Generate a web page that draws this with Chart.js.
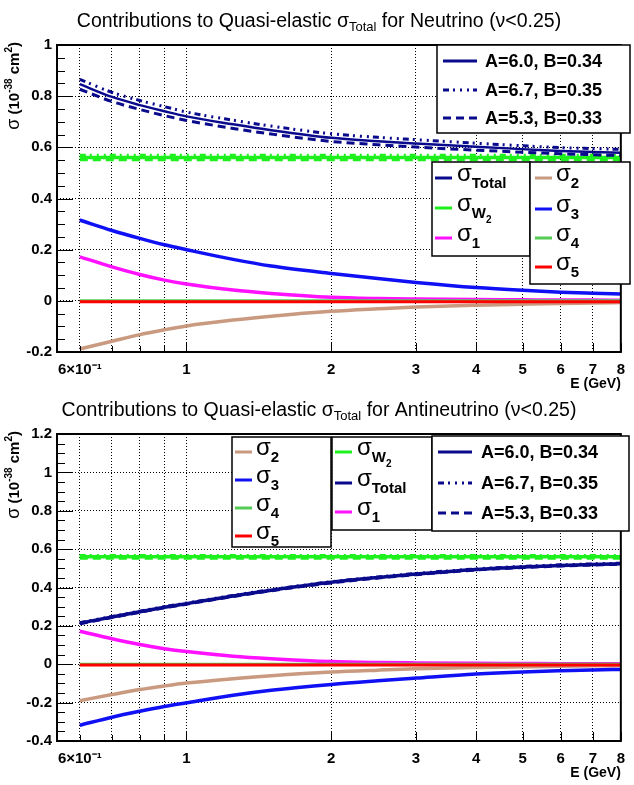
<!DOCTYPE html>
<html>
<head>
<meta charset="utf-8">
<script src="https://cdn.jsdelivr.net/npm/chart.js@4/dist/chart.umd.min.js"></script>
<style>
body { margin: 0; background: #fff; }
#wrap { position: relative; width: 634px; height: 785px; }
canvas { position: absolute; left: 0; }
</style>
</head>
<body>
<div id="wrap">
  <canvas id="nu" width="634" height="392" style="top:0"></canvas>
  <canvas id="anu" width="634" height="393" style="top:392px"></canvas>
</div>
<script>
// energies (GeV) at which the curves were read
const energy = [0.6, 0.7, 0.8, 0.9, 1, 1.25, 1.5, 2, 2.5, 3, 4, 5, 6, 7, 8];

// x axis ticks
const xTickValues = [0.6, 0.7, 0.8, 0.9, 1, 2, 3, 4, 5, 6, 7, 8];
const xTickLabels = ['6\u00d710\u207b\u00b9', '', '', '', '1', '2', '3', '4', '5', '6', '7', '8'];

// neutrino
const totalNu   = [0.847, 0.797, 0.765, 0.741, 0.721, 0.690, 0.667, 0.637, 0.624, 0.615, 0.602, 0.593, 0.586, 0.582, 0.579];
const totalNuHi = [0.866, 0.815, 0.783, 0.759, 0.738, 0.706, 0.683, 0.653, 0.639, 0.630, 0.616, 0.606, 0.599, 0.595, 0.592];
const totalNuLo = [0.827, 0.779, 0.748, 0.724, 0.705, 0.674, 0.652, 0.623, 0.610, 0.601, 0.589, 0.581, 0.575, 0.571, 0.568];
const w2Nu   = [0.560, 0.560, 0.560, 0.560, 0.560, 0.560, 0.560, 0.560, 0.560, 0.560, 0.560, 0.560, 0.560, 0.560, 0.560];
const w2NuHi = [0.568, 0.568, 0.568, 0.568, 0.568, 0.568, 0.568, 0.568, 0.568, 0.568, 0.568, 0.568, 0.568, 0.568, 0.568];
const w2NuLo = [0.552, 0.552, 0.552, 0.552, 0.552, 0.552, 0.552, 0.552, 0.552, 0.552, 0.552, 0.552, 0.552, 0.552, 0.552];
const sigma1Nu = [0.172, 0.133, 0.103, 0.081, 0.066, 0.042, 0.029, 0.014, 0.009, 0.007, 0.005, 0.004, 0.003, 0.003, 0.002];
const sigma2Nu = [-0.188, -0.158, -0.132, -0.113, -0.098, -0.075, -0.060, -0.041, -0.031, -0.024, -0.017, -0.013, -0.010, -0.008, -0.007];
const sigma3Nu = [0.316, 0.275, 0.244, 0.219, 0.200, 0.162, 0.136, 0.107, 0.087, 0.072, 0.052, 0.041, 0.034, 0.030, 0.027];
const sigma4Nu = [0.002, 0.002, 0.002, 0.002, 0.002, 0.002, 0.002, 0.002, 0.002, 0.002, 0.002, 0.002, 0.002, 0.002, 0.002];
const sigma5Nu = [-0.004, -0.004, -0.004, -0.004, -0.004, -0.004, -0.004, -0.004, -0.004, -0.004, -0.004, -0.004, -0.004, -0.004, -0.004];

// antineutrino
const totalAnu   = [0.214, 0.246, 0.274, 0.297, 0.316, 0.356, 0.386, 0.427, 0.452, 0.470, 0.494, 0.507, 0.515, 0.520, 0.524];
const totalAnuHi = [0.217, 0.249, 0.277, 0.300, 0.319, 0.359, 0.389, 0.430, 0.455, 0.473, 0.497, 0.510, 0.518, 0.523, 0.527];
const totalAnuLo = [0.211, 0.243, 0.271, 0.294, 0.313, 0.353, 0.383, 0.424, 0.449, 0.467, 0.491, 0.504, 0.512, 0.517, 0.521];
const w2Anu   = [0.560, 0.560, 0.560, 0.560, 0.560, 0.560, 0.560, 0.560, 0.560, 0.560, 0.560, 0.560, 0.560, 0.560, 0.560];
const w2AnuHi = [0.566, 0.566, 0.566, 0.566, 0.566, 0.566, 0.566, 0.566, 0.566, 0.566, 0.566, 0.566, 0.566, 0.566, 0.566];
const w2AnuLo = [0.554, 0.554, 0.554, 0.554, 0.554, 0.554, 0.554, 0.554, 0.554, 0.554, 0.554, 0.554, 0.554, 0.554, 0.554];
const sigma1Anu = [0.172, 0.133, 0.103, 0.081, 0.066, 0.042, 0.029, 0.014, 0.009, 0.007, 0.005, 0.004, 0.003, 0.003, 0.002];
const sigma2Anu = [-0.190, -0.158, -0.132, -0.113, -0.098, -0.075, -0.060, -0.041, -0.031, -0.024, -0.017, -0.013, -0.010, -0.008, -0.007];
const sigma3Anu = [-0.318, -0.276, -0.245, -0.220, -0.201, -0.162, -0.136, -0.105, -0.086, -0.072, -0.051, -0.040, -0.034, -0.030, -0.027];
const sigma4Anu = [0.002, 0.002, 0.002, 0.002, 0.002, 0.002, 0.002, 0.002, 0.002, 0.002, 0.002, 0.002, 0.002, 0.002, 0.002];
const sigma5Anu = [-0.004, -0.004, -0.004, -0.004, -0.004, -0.004, -0.004, -0.004, -0.004, -0.004, -0.004, -0.004, -0.004, -0.004, -0.004];

// colours
const NAVY = '#0a0a8c', BLUE = '#1010f5', MAGENTA = '#ff10ff', TAN = '#c99a80',
      GREEN4 = '#55cc55', RED = '#ff0000', GREEN = '#1ef01e';
const DOTDASH = [6, 4, 2, 5, 2, 5, 2, 4];
const DASH = [8, 5];
const FONT = '"Liberation Sans", Arial, sans-serif';

// draws a list of text pieces in a row, each with its own font and vertical shift
function drawRich(ctx, segs, x, y, align) {
  let w = 0;
  segs.forEach(s => { ctx.font = s.f; w += ctx.measureText(s.t).width; });
  let cx = align === 'center' ? x - w / 2 : align === 'right' ? x - w : x;
  ctx.textAlign = 'left';
  ctx.textBaseline = 'alphabetic';
  segs.forEach(s => {
    ctx.font = s.f;
    ctx.fillText(s.t, cx, y + (s.dy || 0));
    cx += ctx.measureText(s.t).width;
  });
}

function sigmaSegs(sub, sub2) {
  const segs = [{ t: '\u03c3', f: '24px ' + FONT }];
  if (sub) segs.push({ t: sub, f: 'bold 15px ' + FONT, dy: 7 });
  if (sub2) segs.push({ t: sub2, f: 'bold 10px ' + FONT, dy: 12 });
  return segs;
}

function drawLegend(ctx, box) {
  ctx.save();
  ctx.fillStyle = '#fff';
  ctx.fillRect(box.x, box.y, box.w, box.h);
  ctx.strokeStyle = '#000';
  ctx.lineWidth = 1.5;
  ctx.strokeRect(box.x, box.y, box.w, box.h);
  box.rows.forEach(r => {
    ctx.beginPath();
    ctx.strokeStyle = r.color;
    ctx.lineWidth = 3;
    ctx.setLineDash(r.dash || []);
    ctx.moveTo(box.lx0, r.cy);
    ctx.lineTo(box.lx1, r.cy);
    ctx.stroke();
    ctx.setLineDash([]);
    ctx.fillStyle = '#000';
    if (r.plain) {
      drawRich(ctx, [{ t: r.plain, f: 'bold 18px ' + FONT }], box.tx, r.cy + 6, 'left');
    } else {
      drawRich(ctx, sigmaSegs(r.sub, r.sub2), box.tx, r.cy + 3, 'left');
    }
  });
  ctx.restore();
}

function decoPlugin(cfg) {
  return {
    id: 'rootDeco',
    afterDraw(chart) {
      const ctx = chart.ctx;
      const a = chart.chartArea;
      const xs = chart.scales.x, ys = chart.scales.y;
      ctx.save();
      // tick marks inside the frame
      ctx.strokeStyle = '#000';
      ctx.lineWidth = 1;
      for (let v = cfg.yMin; v <= cfg.yMax + 1e-9; v += 0.05) {
        const py = Math.round(ys.getPixelForValue(v)) + 0.5;
        const major = Math.abs(v / 0.2 - Math.round(v / 0.2)) < 1e-6;
        ctx.beginPath();
        ctx.moveTo(a.left, py);
        ctx.lineTo(a.left + (major ? 16 : 8), py);
        ctx.stroke();
      }
      xTickValues.forEach(v => {
        const px = Math.round(xs.getPixelForValue(v)) + 0.5;
        ctx.beginPath();
        ctx.moveTo(px, a.bottom);
        ctx.lineTo(px, a.bottom - (v >= 1 ? 9 : 6));
        ctx.stroke();
      });
      // frame
      ctx.lineWidth = 2;
      ctx.strokeRect(a.left, a.top, a.right - a.left, a.bottom - a.top);

      ctx.fillStyle = '#000';
      // title
      drawRich(ctx, [
        { t: 'Contributions to Quasi-elastic ', f: '19.5px ' + FONT },
        { t: '\u03c3', f: '19.5px ' + FONT },
        { t: 'Total', f: '13px ' + FONT, dy: 4 },
        { t: ' for ' + cfg.particle + ' (\u03bd<0.25)', f: '19.5px ' + FONT }
      ], 319, cfg.titleY, 'center');
      // x title
      drawRich(ctx, [{ t: 'E (GeV)', f: 'bold 14px ' + FONT }], a.right, a.bottom + 36, 'right');
      // y title
      ctx.save();
      ctx.translate(19, a.top - 3);
      ctx.rotate(-Math.PI / 2);
      drawRich(ctx, [
        { t: '\u03c3', f: '18px ' + FONT },
        { t: ' (10', f: 'bold 15px ' + FONT },
        { t: '-38', f: 'bold 10px ' + FONT, dy: -7 },
        { t: ' cm', f: 'bold 15px ' + FONT },
        { t: '2', f: 'bold 10px ' + FONT, dy: -7 },
        { t: ')', f: 'bold 15px ' + FONT }
      ], 0, 0, 'right');
      ctx.restore();

      cfg.legends.forEach(b => drawLegend(ctx, b));
      ctx.restore();
    }
  };
}

function buildChart(id, cfg) {
  return new Chart(document.getElementById(id), {
    type: 'line',
    data: {
      datasets: cfg.series.map(s => ({
        label: s.name,
        data: energy.map((e, i) => ({ x: e, y: s.values[i] })),
        borderColor: s.color,
        borderWidth: s.width || 3,
        borderDash: s.dash || [],
        pointRadius: 0,
        cubicInterpolationMode: 'monotone',
        fill: false,
        order: s.order
      }))
    },
    options: {
      responsive: false,
      animation: false,
      devicePixelRatio: 1,
      layout: { padding: { top: cfg.top, right: 5, left: 0, bottom: 0 } },
      plugins: { legend: { display: false }, tooltip: { enabled: false }, title: { display: false } },
      scales: {
        x: {
          type: 'logarithmic',
          min: 0.538,
          max: 8,
          afterBuildTicks: s => { s.ticks = xTickValues.map(v => ({ value: v })); },
          afterFit: s => { s.height = cfg.xAxisHeight; },
          ticks: {
            callback: (v, i) => xTickLabels[i],
            autoSkip: false, maxRotation: 0, minRotation: 0,
            color: '#000', padding: 9,
            font: { family: FONT, size: 15, weight: 'bold' }
          },
          grid: { color: '#000', lineWidth: 1, drawTicks: false },
          border: { display: false, dash: [1, 2] }
        },
        y: {
          min: cfg.yMin,
          max: cfg.yMax,
          afterFit: s => { s.width = 57; },
          ticks: {
            stepSize: 0.2,
            callback: v => parseFloat(v.toFixed(2)).toString(),
            color: '#000', padding: 5,
            font: { family: FONT, size: 15, weight: 'bold' }
          },
          grid: { color: '#000', lineWidth: 1, drawTicks: false },
          border: { display: false, dash: [1, 2] }
        }
      }
    },
    plugins: [decoPlugin(cfg)]
  });
}

buildChart('nu', {
  particle: 'Neutrino',
  top: 45, xAxisHeight: 40, titleY: 27,
  yMin: -0.2, yMax: 1,
  series: [
    { name: 'sigma5', values: sigma5Nu, color: RED, order: 1 },
    { name: 'sigma4', values: sigma4Nu, color: GREEN4, order: 2, width: 2 },
    { name: 'sigma3', values: sigma3Nu, color: BLUE, order: 3, width: 3.5 },
    { name: 'sigma2', values: sigma2Nu, color: TAN, order: 4, width: 3.5 },
    { name: 'sigma1', values: sigma1Nu, color: MAGENTA, order: 5, width: 3.5 },
    { name: 'total A=6.0', values: totalNu, color: NAVY, order: 6, width: 2.5 },
    { name: 'total A=6.7', values: totalNuHi, color: NAVY, dash: DOTDASH, order: 7 },
    { name: 'total A=5.3', values: totalNuLo, color: NAVY, dash: DASH, order: 8 },
    { name: 'W2 A=6.0', values: w2Nu, color: GREEN, order: 9, width: 3.5 },
    { name: 'W2 A=6.7', values: w2NuHi, color: GREEN, dash: DOTDASH, order: 10, width: 3.5 },
    { name: 'W2 A=5.3', values: w2NuLo, color: GREEN, dash: DASH, order: 11, width: 3.5 }
  ],
  legends: [
    { x: 437, y: 45, w: 193, h: 88, lx0: 443, lx1: 477, tx: 485, rows: [
      { cy: 61, color: NAVY, plain: 'A=6.0, B=0.34' },
      { cy: 90, color: NAVY, dash: DOTDASH, plain: 'A=6.7, B=0.35' },
      { cy: 118, color: NAVY, dash: DASH, plain: 'A=5.3, B=0.33' }
    ]},
    { x: 432, y: 162, w: 98, h: 94, lx0: 435, lx1: 452, tx: 457, rows: [
      { cy: 178, color: NAVY, sub: 'Total' },
      { cy: 208, color: GREEN, sub: 'W', sub2: '2' },
      { cy: 238, color: MAGENTA, sub: '1' }
    ]},
    { x: 530, y: 162, w: 100, h: 122, lx0: 535, lx1: 552, tx: 556, rows: [
      { cy: 178, color: TAN, sub: '2' },
      { cy: 209, color: BLUE, sub: '3' },
      { cy: 238, color: GREEN4, sub: '4' },
      { cy: 267, color: RED, sub: '5' }
    ]}
  ]
});

buildChart('anu', {
  particle: 'Antineutrino',
  top: 42, xAxisHeight: 44, titleY: 24,
  yMin: -0.4, yMax: 1.2,
  series: [
    { name: 'sigma5', values: sigma5Anu, color: RED, order: 1 },
    { name: 'sigma4', values: sigma4Anu, color: GREEN4, order: 2, width: 2 },
    { name: 'sigma3', values: sigma3Anu, color: BLUE, order: 3, width: 3.5 },
    { name: 'sigma2', values: sigma2Anu, color: TAN, order: 4, width: 3.5 },
    { name: 'sigma1', values: sigma1Anu, color: MAGENTA, order: 5, width: 3.5 },
    { name: 'total A=6.0', values: totalAnu, color: NAVY, order: 6, width: 3.5 },
    { name: 'total A=6.7', values: totalAnuHi, color: NAVY, dash: DOTDASH, order: 7 },
    { name: 'total A=5.3', values: totalAnuLo, color: NAVY, dash: DASH, order: 8 },
    { name: 'W2 A=6.0', values: w2Anu, color: GREEN, order: 9, width: 3.5 },
    { name: 'W2 A=6.7', values: w2AnuHi, color: GREEN, dash: DOTDASH, order: 10, width: 3.5 },
    { name: 'W2 A=5.3', values: w2AnuLo, color: GREEN, dash: DASH, order: 11, width: 3.5 }
  ],
  legends: [
    { x: 232, y: 45, w: 99, h: 110, lx0: 235, lx1: 252, tx: 256, rows: [
      { cy: 60, color: TAN, sub: '2' },
      { cy: 88, color: BLUE, sub: '3' },
      { cy: 116, color: GREEN4, sub: '4' },
      { cy: 144, color: RED, sub: '5' }
    ]},
    { x: 332, y: 45, w: 100, h: 93, lx0: 335, lx1: 352, tx: 357, rows: [
      { cy: 60, color: GREEN, sub: 'W', sub2: '2' },
      { cy: 91, color: NAVY, sub: 'Total' },
      { cy: 120, color: MAGENTA, sub: '1' }
    ]},
    { x: 432, y: 44, w: 197, h: 95, lx0: 438, lx1: 472, tx: 481, rows: [
      { cy: 60, color: NAVY, plain: 'A=6.0, B=0.34' },
      { cy: 91, color: NAVY, dash: DOTDASH, plain: 'A=6.7, B=0.35' },
      { cy: 121, color: NAVY, dash: DASH, plain: 'A=5.3, B=0.33' }
    ]}
  ]
});
</script>
</body>
</html>
